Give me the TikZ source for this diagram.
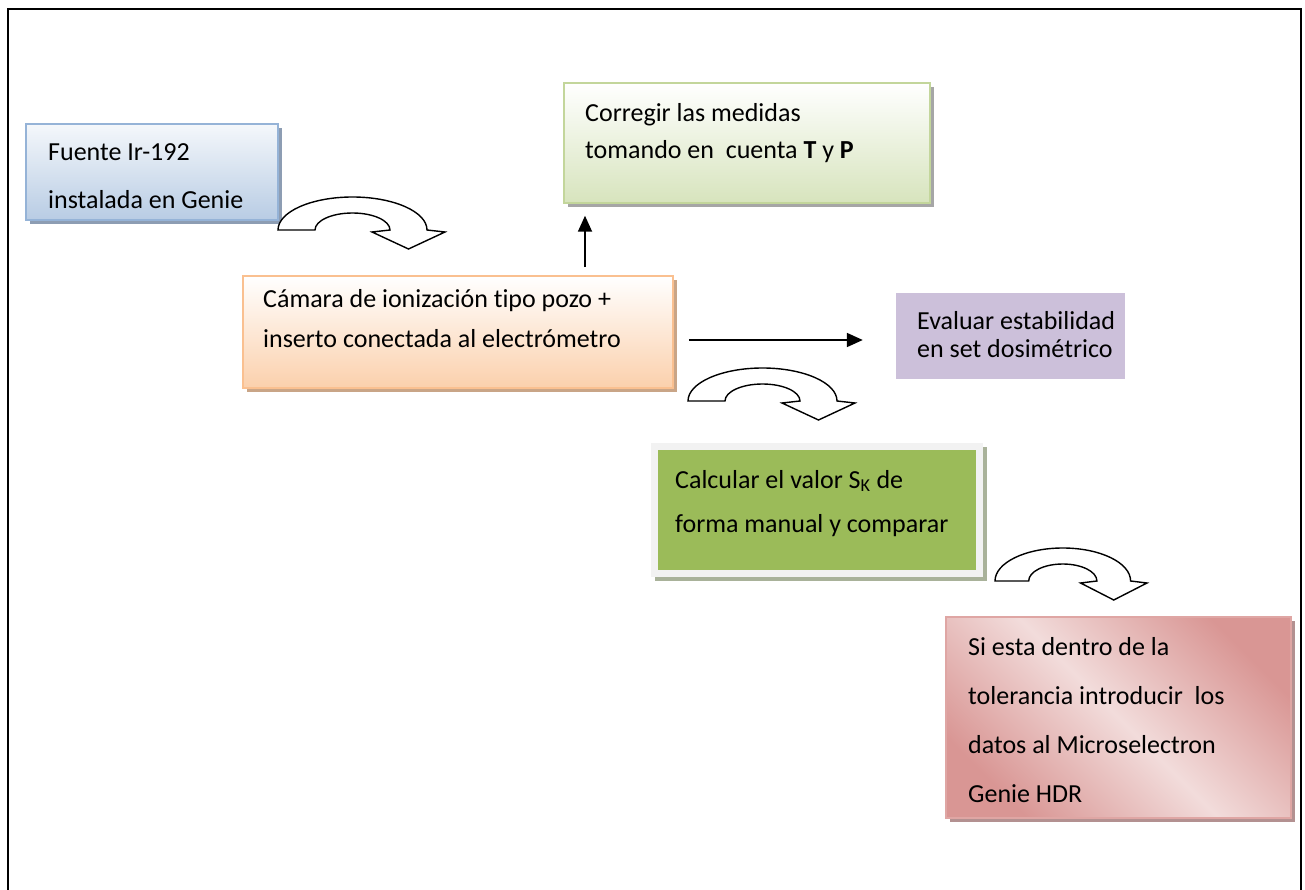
\documentclass[tikz,border=0pt]{standalone}
\usepackage{fontspec}
\setmainfont{Carlito}[Ligatures=NoCommon]
\usetikzlibrary{arrows.meta,shadows,calc}

\definecolor{azulborde}{HTML}{95B3D7}
\definecolor{azulfondo}{HTML}{B8CCE4}
\definecolor{azulsombra}{HTML}{8D9DB3}
\definecolor{naranjaborde}{HTML}{FAC090}
\definecolor{naranjafondo}{HTML}{FBD0AC}
\definecolor{naranjasombra}{HTML}{C9A587}
\definecolor{verdeborde}{HTML}{C3D69B}
\definecolor{verdefondo}{HTML}{D7E4BD}
\definecolor{grissombra}{HTML}{A6A6A6}
\definecolor{lila}{HTML}{CCC0DA}
\definecolor{verdeoscuro}{HTML}{9BBB59}
\definecolor{grisclaro}{HTML}{F2F2F2}
\definecolor{verdesombra}{HTML}{A9B29A}
\definecolor{rosaoscuro}{HTML}{D99694}
\definecolor{rosaclaro}{HTML}{F2DCDB}
\definecolor{rosasombra}{HTML}{B39191}

\pgfdeclarehorizontalshading{rosado}{100bp}{color(0bp)=(rosaoscuro); color(25bp)=(rosaoscuro); color(50bp)=(rosaclaro); color(75bp)=(rosaoscuro); color(100bp)=(rosaoscuro)}

\tikzset{
  curva/.pic={
    \draw[line width=1.4pt, fill=white] (0,0)
      arc[start angle=180, end angle=360, x radius=74.5, y radius=33]
      -- (167,2) -- (130.5,19) -- (94,2) -- (112,0)
      arc[start angle=0, end angle=-180, x radius=37.5, y radius=17]
      -- cycle;
  }
}

\begin{document}
\begin{tikzpicture}[x=1pt, y=-1pt,
    caja/.style={rectangle, inner sep=0pt, line width=1.5pt,
      drop shadow={shadow xshift=4pt, shadow yshift=-4pt, opacity=1, fill=#1}},
    texto/.style={align=left, inner sep=0pt, anchor=base west,
      font=\fontsize{26}{#1}\selectfont},
    flecha/.style={line width=1.8pt, -{Triangle[length=16pt,width=14pt]}}]
    \useasboundingbox (0,0) rectangle (1305,890);
    \draw[line width=2pt] (8,890) -- (8,9) -- (1301,9) -- (1301,890);

    % cajas
    \node[caja=azulsombra, draw=azulborde, top color=azulfondo!15, bottom color=azulfondo,
      minimum width=252pt, minimum height=96pt] (fuente) at (152,172) {};
    \node[caja=naranjasombra, draw=naranjaborde, top color=white, bottom color=naranjafondo,
      minimum width=430pt, minimum height=112pt] (cam) at (458,332) {};
    \node[caja=grissombra, draw=verdeborde, top color=white, bottom color=verdefondo,
      minimum width=366pt, minimum height=120pt] (corr) at (747,143) {};
    \node[fill=lila, inner sep=0pt, minimum width=229pt, minimum height=86pt] (eval) at (1010.5,336) {};
    \node[caja=verdesombra, fill=grisclaro, minimum width=332pt, minimum height=134pt,
      path picture={\fill[verdeoscuro] ($(path picture bounding box.north west)+(7,7)$)
        rectangle ($(path picture bounding box.south east)+(-7,-7)$);}] (calc) at (817,510) {};
    \node[caja=rosasombra, draw=rosaoscuro!85, shade, shading=rosado, shading angle=45,
      minimum width=345pt, minimum height=201pt] (si) at (1118.5,717.5) {};

    % textos (anclados en la ultima linea)
    \node[texto=48] (fuentetxt) at (48,209) {Fuente Ir-192\\instalada en Genie};
    \node[texto=40] (camtxt) at (263,347) {Cámara de ionización tipo pozo +\\inserto conectada al electrómetro};
    \node[texto=37] (corrtxt) at (585,159) {Corregir las medidas\\tomando en~ cuenta \textbf{T} y \textbf{P}};
    \node[texto=28] (evaltxt) at (917,357) {Evaluar estabilidad\\en set dosimétrico};
    \node[texto=44] (calctxt) at (675,532) {Calcular el valor S\textsubscript{K} de\\forma manual y comparar};
    \node[texto=49] (sitxt) at (968,802) {Si esta dentro de la\\tolerancia introducir~ los\\datos al Microselectron\\Genie HDR};

    % flechas curvas
    \pic (c1) at (278,230) {curva};
    \pic (c2) at (688,401) {curva};
    \pic[xscale=0.91] (c3) at (995,581) {curva};

    % flechas rectas
    \coordinate (vx) at (585,0);
    \coordinate (hy) at (0,340);
    \draw[flecha] ($(cam.north -| vx)+(0,-8)$) -- ($(corr.south -| vx)+(0,12)$);
    \draw[flecha] ($(cam.east |- hy)+(15,0)$) -- ($(eval.west |- hy)+(-33,0)$);
\end{tikzpicture}
\end{document}
